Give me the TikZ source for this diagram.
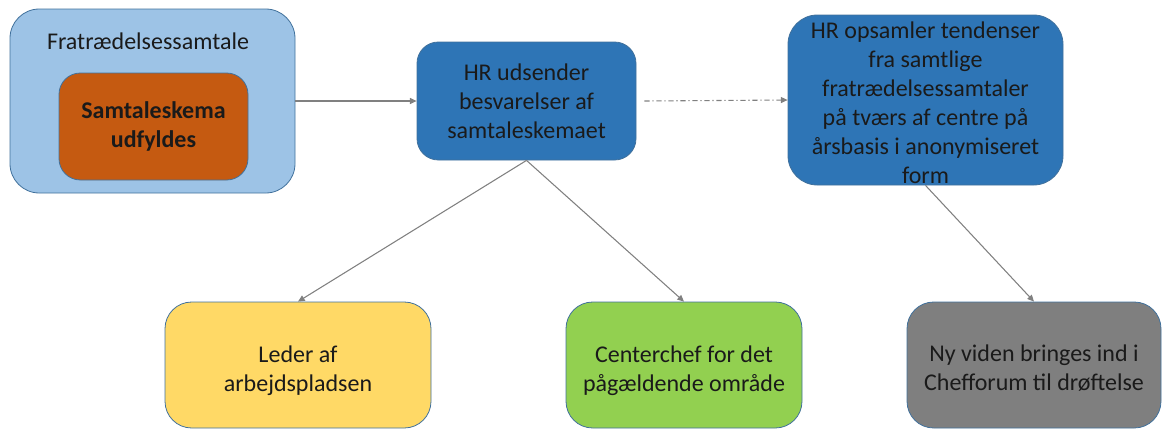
\documentclass[tikz,border=0pt]{standalone}
\usepackage{fontspec}
\setmainfont{Carlito}
\usetikzlibrary{arrows.meta}
\definecolor{lblue}{HTML}{9DC3E6}
\definecolor{bord}{HTML}{41719C}
\definecolor{orng}{HTML}{C55A11}
\definecolor{mblue}{HTML}{2E75B6}
\definecolor{yel}{HTML}{FFD966}
\definecolor{grn}{HTML}{92D050}
\definecolor{gry}{HTML}{7F7F7F}
\definecolor{arr}{HTML}{808080}
\definecolor{txt}{HTML}{1A1A1A}
\def\u{0.75pt}
\begin{document}
\begin{tikzpicture}[x=0.75pt,y=-0.75pt,
  box/.style={draw=bord,line width=0.6pt,align=center,text=txt,
    font=\fontsize{18}{21.75}\selectfont,inner sep=0pt},
  conn/.style={draw=arr,line width=0.8pt,-{Triangle[length=5pt,width=4.5pt]}}]
\useasboundingbox (0,0) rectangle (1164,429);
\node[box,fill=lblue,rounded corners=22pt,minimum width=285*\u,minimum height=184*\u] (outer) at (152.5,101) {};
\node[text=txt,font=\fontsize{18}{21.75}\selectfont] (title) at (148,41) {Fratrædelsessamtale};
\node[box,fill=orng,rounded corners=16pt,minimum width=189*\u,minimum height=107*\u,font=\fontsize{18}{21.75}\selectfont\bfseries] (inner) at (153.5,126.5) {Samtaleskema\\udfyldes};
\node[box,fill=mblue,rounded corners=16pt,minimum width=219*\u,minimum height=118*\u] (hr) at (526.5,101) {HR udsender\\besvarelser af\\samtaleskemaet};
\node[box,fill=mblue,rounded corners=22pt,minimum width=275*\u,minimum height=170*\u] (hr2) at (925.5,100) {};
\node[text=txt,font=\fontsize{18}{21.75}\selectfont,align=center,inner sep=0pt] (hr2t) at (925.5,102.5) {HR opsamler tendenser\\fra samtlige\\fratrædelsessamtaler\\på tværs af centre på\\årsbasis i anonymiseret\\form};
\node[box,fill=yel,rounded corners=20pt,minimum width=266*\u,minimum height=126*\u] (led) at (298,365) {};
\node[text=txt,font=\fontsize{18}{21.75}\selectfont,align=center,inner sep=0pt] (ledt) at (298,371) {Leder af\\arbejdspladsen};
\node[box,fill=grn,rounded corners=20pt,minimum width=236*\u,minimum height=126*\u] (cen) at (684,365) {};
\node[text=txt,font=\fontsize{18}{21.75}\selectfont,align=center,inner sep=0pt] (cent) at (684,371) {Centerchef for det\\pågældende område};
\node[box,fill=gry,rounded corners=20pt,minimum width=254*\u,minimum height=126*\u] (ny) at (1034,365) {};
\node[text=txt,font=\fontsize{18}{21.75}\selectfont,align=center,inner sep=0pt] (nyt) at (1034,368) {Ny viden bringes ind i\\Chefforum til drøftelse};
\draw[conn] (outer.east) -- (hr.west);
\draw[conn,dash pattern=on 4pt off 2pt on 1pt off 2pt] (hr.east) ++(8,0) coordinate (ds) (ds) -- (hr2.west);
\draw[conn] (hr.south) -- (led.north);
\draw[conn] (hr.south) -- (cen.north);
\draw[conn] (hr2.south) -- (ny.north);
\end{tikzpicture}
\end{document}
